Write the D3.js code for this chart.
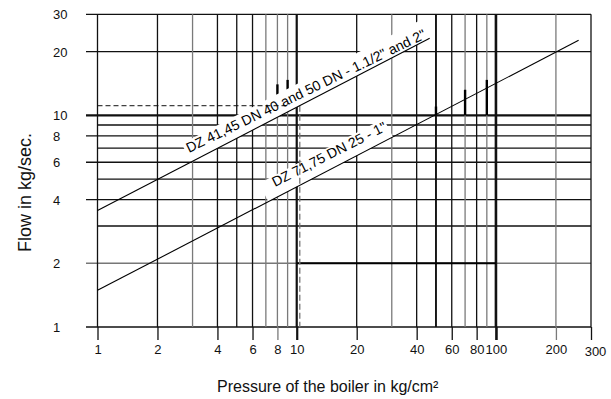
<!DOCTYPE html>
<html><head><meta charset="utf-8">
<script src="https://cdn.jsdelivr.net/npm/d3@7"></script>
<style>
html,body{margin:0;padding:0;background:#fff;}
svg{display:block;font-family:"Liberation Sans",Arial,sans-serif;}
</style></head>
<body>
<svg id="chart" width="611" height="399"></svg>
<script>
// ---- data ----
const xTickValues = [1, 2, 4, 6, 8, 10, 20, 40, 60, 80, 100, 200, 300];
const yTickValues = [1, 2, 4, 6, 8, 10, 20, 30];
const xGridValues = [1, 2, 3, 4, 5, 6, 7, 8, 9, 10, 20, 30, 40, 50, 60, 70, 80, 90, 100, 200, 300];
const yGridValues = [1, 2, 3, 4, 5, 6, 7, 8, 9, 10, 20, 30];
const greyXValues = [3, 7, 8, 9, 30, 70, 90, 200];
// curve end points [pressure, flow]
const seriesDZ4145 = [[1, 3.55], [46.5, 23.1]];
const seriesDZ7175 = [[1, 1.49], [260, 22.6]];
const labelDZ4145 = "DZ 41,45 DN 40 and 50 DN - 1.1/2\" and 2\"";
const labelDZ7175 = "DZ 71,75 DN 25 - 1\"";
// label baseline start / end in data units
const labelDZ4145Pos = [[2.88, 6.64], [45.6, 23.4]];
const labelDZ7175Pos = [[7.78, 4.58], [28.5, 8.5]];
// white label backgrounds: pressure ranges along each curve
const maskDZ4145 = [2.95, 47];
const maskDZ7175 = [7.2, 30.4];
// reading example (dashed)
const readPressure = 10.36;
const readFlow = 11.1;
// emphasised segment of the flow = 2 line
const emphY2 = [10, 100];
// short emphasised vertical pieces [pressure, flowFrom, flowTo]
const emphVertical = [[8, 12.5, 14], [9, 13.2, 14.7], [50, 10, 11], [70, 10, 13.2], [90, 10, 14.7]];
const xTitle = "Pressure of the boiler in kg/cm²";
const yTitle = "Flow in kg/sec.";

// ---- scales ----
const svg = d3.select("#chart");
const x = d3.scaleLog().domain([1, 300]).range([97.5, 591]);
const y = d3.scaleLog().domain([1, 30]).range([327, 14.3]);

const grid = svg.append("g");
grid.selectAll("line.h").data(yGridValues).join("line")
  .attr("x1", d => yTickValues.includes(d) ? 86 : x(1))
  .attr("x2", x(300))
  .attr("y1", d => y(d)).attr("y2", d => y(d))
  .attr("stroke", d => d === 2 ? "#777" : "#111")
  .attr("stroke-width", d => d === 10 ? 2.2 : 1.3);
grid.selectAll("line.v").data(xGridValues).join("line")
  .attr("x1", d => x(d)).attr("x2", d => x(d))
  .attr("y1", y(30))
  .attr("y2", y(1))
  .attr("stroke", d => greyXValues.includes(d) ? "#7a7a7a" : "#111")
  .attr("stroke-width", d => d === 10 ? 2.2 : d === 100 ? 2.6 : d === 50 ? 1.9 : 1.3);
grid.append("line")
  .attr("x1", x(emphY2[0])).attr("x2", x(emphY2[1]))
  .attr("y1", y(2)).attr("y2", y(2))
  .attr("stroke", "#000").attr("stroke-width", 2.2);
grid.selectAll("line.e").data(emphVertical).join("line")
  .attr("x1", d => x(d[0])).attr("x2", d => x(d[0]))
  .attr("y1", d => y(d[1])).attr("y2", d => y(d[2]))
  .attr("stroke", "#000").attr("stroke-width", 2.4);

// axes
const xAxis = d3.axisBottom(x).tickValues(xTickValues).tickFormat(d3.format("d")).tickSize(13).tickPadding(5);
const gx = svg.append("g").attr("transform", `translate(0,${y(1)})`).call(xAxis);
gx.select(".domain").remove();
gx.selectAll(".tick line").attr("stroke", d => greyXValues.includes(d) ? "#7a7a7a" : "#111")
  .attr("stroke-width", d => d === 10 ? 2.2 : d === 100 ? 2.6 : 1.3);
gx.selectAll(".tick text").attr("font-size", 13).attr("fill", "#111")
  .attr("font-family", "Liberation Sans, Arial, sans-serif")
  .attr("dx", d => d === 300 ? 4 : 0).attr("dy", d => d === 300 ? "0.85em" : "0.71em");

const yAxis = d3.axisLeft(y).tickValues(yTickValues).tickFormat(d3.format("d")).tickSize(0);
const gy = svg.append("g").attr("transform", `translate(${x(1)},0)`).call(yAxis);
gy.select(".domain").remove();
gy.selectAll(".tick text").attr("font-size", 13).attr("fill", "#111")
  .attr("text-anchor", "start").attr("x", 53 - x(1)).attr("dy", "0.35em")
  .attr("font-family", "Liberation Sans, Arial, sans-serif");

// white backgrounds behind curve labels
function maskPoly(series, range, h) {
  const [p0, p1] = series;
  const k = Math.log(p1[1] / p0[1]) / Math.log(p1[0] / p0[0]);
  const f = v => p0[1] * Math.pow(v / p0[0], k);
  const A = [x(range[0]), y(f(range[0]))];
  const B = [x(range[1]), y(f(range[1]))];
  const dx = B[0] - A[0], dy = B[1] - A[1], L = Math.hypot(dx, dy);
  const n = [dy / L, -dx / L];
  return [A, B, [B[0] + n[0] * h, B[1] + n[1] * h], [A[0] + n[0] * h, A[1] + n[1] * h]];
}
svg.append("polygon").attr("points", maskPoly(seriesDZ4145, maskDZ4145, 20.5).join(" ")).attr("fill", "#fff");
svg.append("polygon").attr("points", maskPoly(seriesDZ7175, maskDZ7175, 20.5).join(" ")).attr("fill", "#fff");

// dashed reading lines
svg.append("line")
  .attr("x1", x(1)).attr("x2", x(readPressure) - 12)
  .attr("y1", y(readFlow)).attr("y2", y(readFlow))
  .attr("stroke", "#111").attr("stroke-width", 1).attr("stroke-dasharray", "5,3");
svg.append("line")
  .attr("x1", x(readPressure)).attr("x2", x(readPressure))
  .attr("y1", y(readFlow)).attr("y2", y(1))
  .attr("stroke", "#777").attr("stroke-width", 1.3).attr("stroke-dasharray", "6,3");

// curves
const lineGen = d3.line().x(d => x(d[0])).y(d => y(d[1]));
[seriesDZ4145, seriesDZ7175].forEach(s => {
  svg.append("path").attr("d", lineGen(s)).attr("fill", "none")
    .attr("stroke", "#000").attr("stroke-width", 1.1);
});

// curve labels
function placeLabel(text, pos) {
  const a = [x(pos[0][0]), y(pos[0][1])], b = [x(pos[1][0]), y(pos[1][1])];
  const ang = Math.atan2(b[1] - a[1], b[0] - a[0]) * 180 / Math.PI;
  svg.append("text").attr("transform", `translate(${a[0]},${a[1]}) rotate(${ang})`)
    .attr("font-size", 14).attr("fill", "#000").text(text);
}
placeLabel(labelDZ4145, labelDZ4145Pos);
placeLabel(labelDZ7175, labelDZ7175Pos);

// axis titles
svg.append("text").attr("x", 217).attr("y", 392).attr("font-size", 16).attr("fill", "#111").text(xTitle);
svg.append("text").attr("transform", "translate(31,252) rotate(-90)").attr("font-size", 18).attr("fill", "#111").text(yTitle);
</script>
</body></html>
